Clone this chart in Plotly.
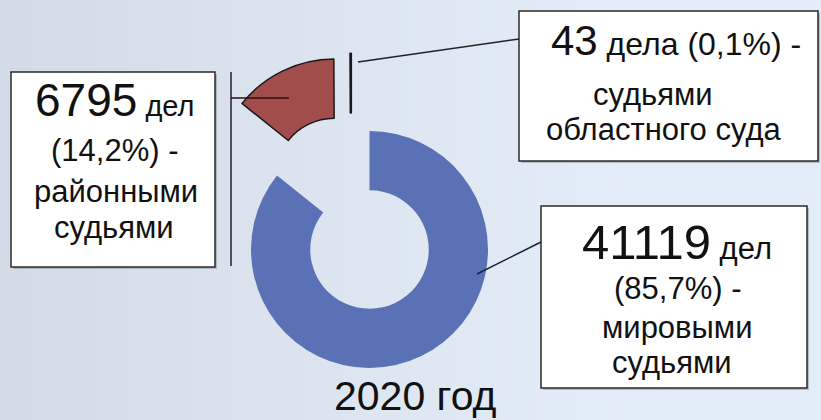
import plotly.graph_objects as go

W, H = 821, 420

# ---- data ----
categories = ["мировыми судьями", "районными судьями", "судьями областного суда"]
values = [41119, 6795, 43]
percent_labels = ["85,7%", "14,2%", "0,1%"]
year_label = "2020 год"

BLUE = "#5b71b6"
RED = "#a24c4c"
CLEAR = "rgba(0,0,0,0)"
FONT = "Liberation Sans, Arial, sans-serif"


def px(x):
    return x / W


def py(y):
    return 1 - y / H


def dom(cx, cy, r):
    return dict(x=[px(cx - r), px(cx + r)], y=[py(cy + r), py(cy - r)])


R = 118.5
fig = go.Figure()

# main ring (blue slice), exploded red slice, exploded tiny slice
pieces = [
    (dom(369.5, 249.5, R), [BLUE, CLEAR, CLEAR], [0, 0, 0]),
    (dom(334.5, 177.5, R), [CLEAR, RED, CLEAR], [0, 1.5, 0]),
    (dom(351.0, 172.0, R), [CLEAR, CLEAR, RED], [0, 0, 2.2]),
]
for d, cols, lw in pieces:
    fig.add_trace(go.Pie(
        labels=categories, values=values, sort=False, direction="clockwise",
        rotation=0, hole=0.5, textinfo="none", domain=d,
        marker=dict(colors=cols, line=dict(color="#1a1a1a", width=lw)),
        showlegend=False, hoverinfo="label+value+percent",
    ))

shapes = []
# background gradient (vertical strips)
n = 60
c0 = (211, 219, 230)
c1 = (227, 237, 248)
for i in range(n):
    t = i / (n - 1)
    col = "rgb(%d,%d,%d)" % tuple(round(a + (b - a) * min(1, t * 1.3)) for a, b in zip(c0, c1))
    shapes.append(dict(type="rect", xref="paper", yref="paper", layer="below",
                       x0=i / n, x1=(i + 1) / n + 0.002, y0=0, y1=1,
                       fillcolor=col, line=dict(width=0)))


def line(x0, y0, x1, y1, w=1.5, c="#222222"):
    shapes.append(dict(type="line", xref="paper", yref="paper",
                       x0=px(x0), y0=py(y0), x1=px(x1), y1=py(y1),
                       line=dict(color=c, width=w)))


def box(x0, y0, x1, y1):
    shapes.append(dict(type="rect", xref="paper", yref="paper",
                       x0=px(x0 + 2), y0=py(y1 + 2), x1=px(x1 + 2), y1=py(y0 + 2),
                       fillcolor="rgba(90,100,120,0.35)", line=dict(width=0)))
    shapes.append(dict(type="rect", xref="paper", yref="paper",
                       x0=px(x0), y0=py(y1), x1=px(x1), y1=py(y0),
                       fillcolor="white", line=dict(color="#2a2a2a", width=1.5)))


# leader lines
line(231, 72, 231, 266)
line(231, 98, 289, 98, c="#2a1010")
line(358, 62, 519, 39)
line(477, 274, 541, 242, c="#1a2040")

# boxes
box(519, 11, 818, 161)
box(11, 72, 215, 267)
box(541, 206, 807, 388)

anns = []


def txt(x, y, s, size=31):
    anns.append(dict(x=px(x), y=py(y), xref="paper", yref="paper", text=s,
                     showarrow=False, xanchor="center", yanchor="middle",
                     font=dict(family=FONT, size=size, color="#111111")))


def big(s, size=46):
    return "<span style='font-size:%dpx'>%s</span>" % (size, s)


# box 1: областной суд
txt(676, 40, big(f"{values[2]}", 42) + f" дела ({percent_labels[2]}) -", 32)
txt(653, 95, "судьями")
txt(664, 129, "областного суда")
# box 2: районные судьи
txt(115, 100, big(f"{values[1]}") + " дел", 29)
txt(115, 150, f"({percent_labels[1]}) -")
txt(116, 192, "районными")
txt(114, 228, "судьями")
# box 3: мировые судьи
txt(677, 242, big(f"{values[0]}", 49) + " дел", 31)
txt(677, 288, f"({percent_labels[0]}) -")
txt(677, 327, "мировыми")
txt(672, 362, "судьями")
# year
txt(415, 396, year_label, 41)

fig.update_layout(
    width=W, height=H, margin=dict(l=0, r=0, t=0, b=0),
    paper_bgcolor="rgb(227,237,248)", plot_bgcolor="rgba(0,0,0,0)",
    shapes=shapes, annotations=anns,
)
fig.write_html("out.html", config={"displayModeBar": False},
               post_script="document.body.style.margin='0px';document.body.style.overflow='hidden';")
